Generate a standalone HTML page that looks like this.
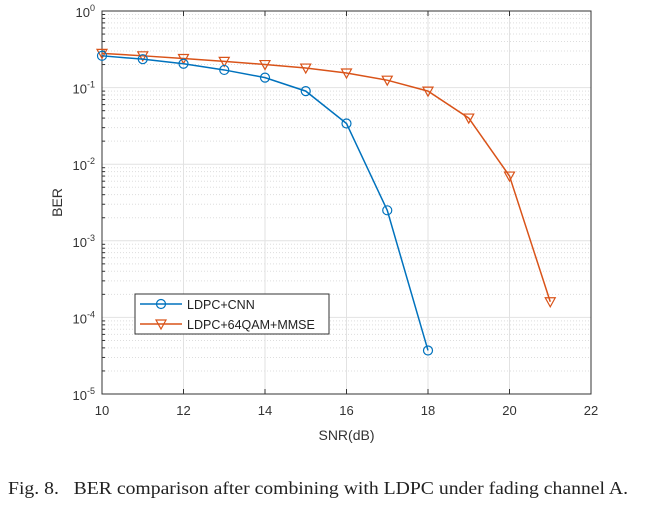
<!DOCTYPE html>
<html><head><meta charset="utf-8"><style>
body{margin:0;background:#fff;width:645px;height:505px;overflow:hidden}
svg{position:absolute;left:0;top:0}
</style></head><body>
<svg id="chart" width="645" height="505" font-family="Liberation Sans, sans-serif">
<text x="8" y="494" font-family="Liberation Serif, serif" font-size="18" fill="#222" textLength="620" lengthAdjust="spacingAndGlyphs">Fig. 8.&#160;&#160; BER comparison after combining with LDPC under fading channel A.</text>
</svg>
<script>
const snr=[10,11,12,13,14,15,16,17,18,19,20,21];
const berCNN=[0.26,0.235,0.205,0.17,0.135,0.09,0.034,0.0025,0.000037];
const berMMSE=[0.28,0.26,0.24,0.22,0.2,0.18,0.155,0.125,0.09,0.04,0.007,0.00016];
const xTicks=[10,12,14,16,18,20,22];
const yExps=[0,-1,-2,-3,-4,-5];
const L=102,R=591,T=11,B=394;
const X=v=>L+(v-10)/12*(R-L);
const Y=v=>T+(-Math.log10(v))/5*(B-T);
const s=document.getElementById('chart');const NS='http://www.w3.org/2000/svg';
function el(t,a,p){const e=document.createElementNS(NS,t);for(const k in a)e.setAttribute(k,a[k]);(p||s).appendChild(e);return e;}
const g=el('g',{});
for(let d=0;d<5;d++)for(let m=2;m<10;m++){const y=Y(Math.pow(10,-d-1)*m);el('line',{x1:L,x2:R,y1:y,y2:y,stroke:'#ddd','stroke-dasharray':'1,2','stroke-width':1},g);}
xTicks.forEach(v=>el('line',{x1:X(v),x2:X(v),y1:T,y2:B,stroke:'#e2e2e2'},g));
yExps.forEach(e=>el('line',{x1:L,x2:R,y1:Y(Math.pow(10,e)),y2:Y(Math.pow(10,e)),stroke:'#e2e2e2'},g));
const box=el('rect',{x:L,y:T,width:R-L,height:B-T,fill:'none',stroke:'#333'});

xTicks.forEach(v=>{el('line',{x1:X(v),x2:X(v),y1:B,y2:B-5,stroke:'#333'});el('line',{x1:X(v),x2:X(v),y1:T,y2:T+5,stroke:'#333'});
const t=el('text',{x:X(v),y:B+21,'text-anchor':'middle','font-size':13,fill:'#333'});t.textContent=v;
});
yExps.forEach(e=>{const y=Y(Math.pow(10,e));
const t=el('text',{x:L-7,y:y+6,'text-anchor':'end','font-size':13,fill:'#333'});
t.innerHTML='10<tspan dy="-6" font-size="9">'+e+'</tspan>';
});
for(let d=0;d<5;d++)for(let m=2;m<10;m++){const y=Y(Math.pow(10,-d-1)*m);el('line',{x1:L,x2:L+3,y1:y,y2:y,stroke:'#333'});}
const xt=el('text',{x:(L+R)/2,y:440,'text-anchor':'middle','font-size':14,fill:'#333'});xt.textContent='SNR(dB)';

const yt=el('text',{x:0,y:0,'text-anchor':'middle','font-size':14,fill:'#333',transform:`translate(62,${(T+B)/2}) rotate(-90)`});yt.textContent='BER';

function tri(x,y,c,p){return el('path',{d:`M${x-5},${y-4}L${x+5},${y-4}L${x},${y+5}Z`,fill:'none',stroke:c,'stroke-width':1.2},p);}
function series(vals,c,name,mk){const gg=el('g',{});
el('polyline',{points:vals.map((v,i)=>X(snr[i])+','+Y(v)).join(' '),fill:'none',stroke:c,'stroke-width':1.5},gg);
vals.forEach((v,i)=>{if(mk==='o')el('circle',{cx:X(snr[i]),cy:Y(v),r:4.5,fill:'none',stroke:c,'stroke-width':1.2},gg);else tri(X(snr[i]),Y(v),c,gg);});}
series(berMMSE,'#d95319','series-ldpc-64qam-mmse','v');
series(berCNN,'#0072bd','series-ldpc-cnn','o');
const lg=el('g',{});
el('rect',{x:135,y:294,width:194,height:40,fill:'#fff',stroke:'#333'},lg);
el('line',{x1:140,x2:182,y1:304,y2:304,stroke:'#0072bd','stroke-width':1.5},lg);
el('circle',{cx:161,cy:304,r:4.5,fill:'none',stroke:'#0072bd','stroke-width':1.2},lg);
el('line',{x1:140,x2:182,y1:324,y2:324,stroke:'#d95319','stroke-width':1.5},lg);
tri(161,324,'#d95319',lg);
let a=el('text',{x:187,y:309,'font-size':12.5,fill:'#222'},lg);a.textContent='LDPC+CNN';

a=el('text',{x:187,y:329,'font-size':12.5,fill:'#222'},lg);a.textContent='LDPC+64QAM+MMSE';

</script>
</body></html>
